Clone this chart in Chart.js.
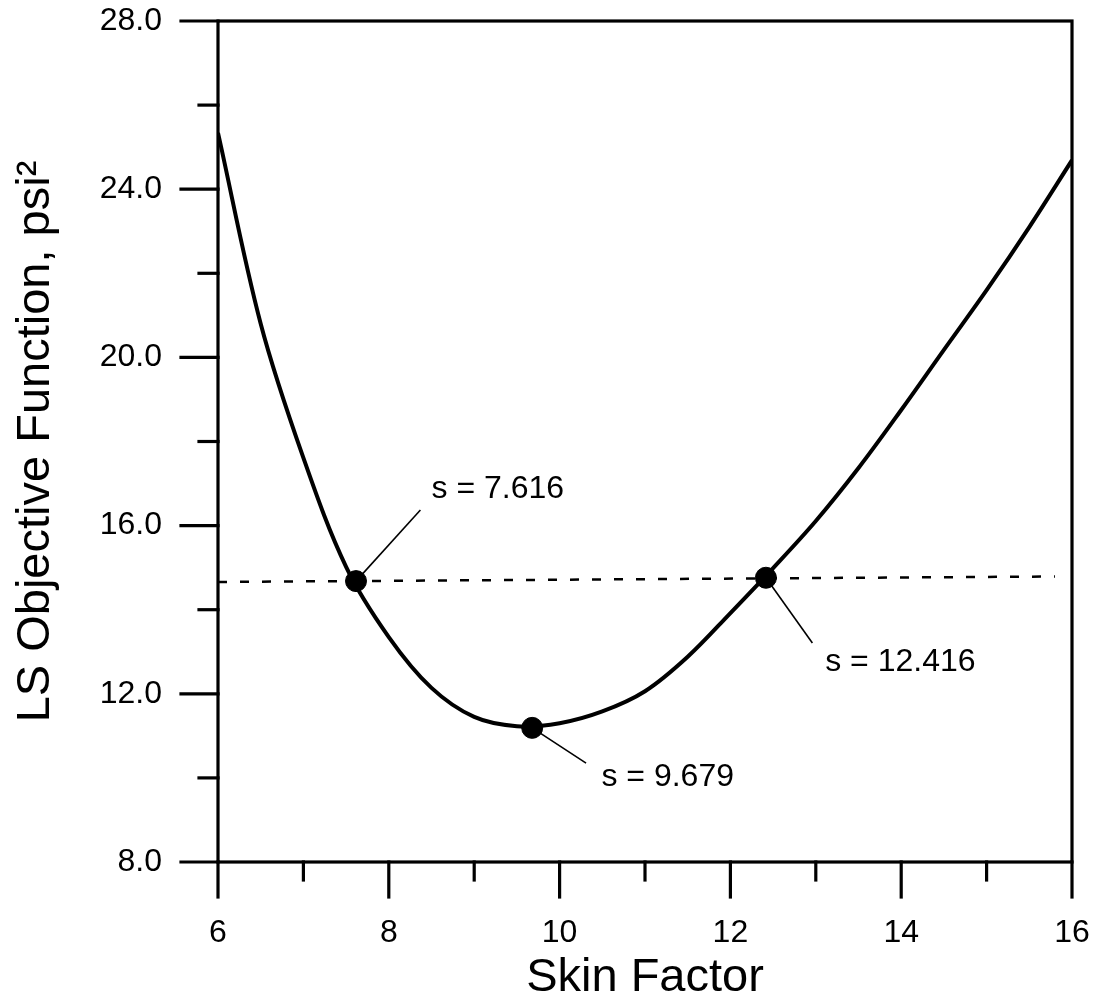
<!DOCTYPE html>
<html><head><meta charset="utf-8">
<script src="https://cdn.jsdelivr.net/npm/chart.js@4/dist/chart.umd.min.js"></script>
<style>html,body{margin:0;padding:0;background:#fff;}canvas{display:block;}</style>
</head><body>
<canvas id="c" width="1099" height="999"></canvas>
<script>
// ---- data ----
const skinFactor = [6, 6.5, 7, 7.5, 8, 8.5, 9, 9.5, 10, 10.5, 11, 11.5, 12, 12.5, 13, 13.5, 14, 14.5, 15, 15.5, 16];
const objective  = [25.34, 20.80, 17.61, 15.02, 13.35, 12.14, 11.45, 11.23, 11.30, 11.58, 12.06, 12.88, 13.92, 14.99, 16.11, 17.37, 18.75, 20.18, 21.60, 23.10, 24.69];
const markedSkin = [7.616, 9.679, 12.416];
const markedObjective = [14.68, 11.19, 14.76];
const markedLabels = ['s = 7.616', 's = 9.679', 's = 12.416'];
const thresholdSkin = [6, 15.8];
const thresholdObjective = [14.66, 14.79];
const xTickValues = [6, 8, 10, 12, 14, 16];
const yTickValues = [8, 12, 16, 20, 24, 28];
const xMinorValues = [7, 9, 11, 13, 15];
const yMinorValues = [10, 14, 18, 22, 26];

// annotation placement (data units)
const annotations = [
  { leaderEnd: [8.37, 16.37], text: [8.50, 16.87] },
  { leaderEnd: [10.31, 10.35], text: [10.49, 10.02] },
  { leaderEnd: [12.96, 13.21], text: [13.11, 12.76] }
];

const FONT = '"Liberation Sans", Arial, Helvetica, sans-serif';

const pts = (xs, ys) => xs.map((v, i) => ({ x: v, y: ys[i] }));

const leaderSets = annotations.map((a, i) => ({
  type: 'line',
  data: [{ x: markedSkin[i], y: markedObjective[i] }, { x: a.leaderEnd[0], y: a.leaderEnd[1] }],
  borderColor: '#000', borderWidth: 1.6, pointRadius: 0, fill: false, clip: false
}));

const framePlugin = {
  id: 'frame',
  afterDatasetsDraw(chart) {
    const { ctx, chartArea: a, scales: { x, y } } = chart;
    ctx.save();
    ctx.strokeStyle = '#000';
    ctx.lineWidth = 3.2;
    ctx.lineCap = 'square';
    ctx.strokeRect(a.left, a.top, a.right - a.left, a.bottom - a.top);
    const seg = (x1, y1, x2, y2) => { ctx.beginPath(); ctx.moveTo(x1, y1); ctx.lineTo(x2, y2); ctx.stroke(); };
    yTickValues.forEach(v => { const p = y.getPixelForValue(v); seg(a.left - 37, p, a.left, p); });
    yMinorValues.forEach(v => { const p = y.getPixelForValue(v); seg(a.left - 19, p, a.left, p); });
    xTickValues.forEach(v => { const p = x.getPixelForValue(v); seg(p, a.bottom, p, a.bottom + 35); });
    xMinorValues.forEach(v => { const p = x.getPixelForValue(v); seg(p, a.bottom, p, a.bottom + 18); });
    ctx.restore();
  }
};

const labelPlugin = {
  id: 'pointLabels',
  afterDatasetsDraw(chart) {
    const { ctx, scales: { x, y } } = chart;
    ctx.save();
    ctx.fillStyle = '#000';
    ctx.font = '32px ' + FONT;
    ctx.textAlign = 'left';
    ctx.textBaseline = 'middle';
    annotations.forEach((a, i) => {
      ctx.fillText(markedLabels[i], x.getPixelForValue(a.text[0]), y.getPixelForValue(a.text[1]));
    });
    ctx.restore();
  }
};

const zeroPad = s => { s.paddingTop = 0; s.paddingBottom = 0; s.paddingLeft = 0; s.paddingRight = 0; };

new Chart(document.getElementById('c'), {
  data: {
    datasets: [
      {
        type: 'line', data: pts(skinFactor, objective),
        borderColor: '#000', borderWidth: 4, pointRadius: 0, tension: 0.35, fill: false
      },
      {
        type: 'line', data: pts(thresholdSkin, thresholdObjective),
        borderColor: '#000', borderWidth: 2.5, borderDash: [9, 13], pointRadius: 0, fill: false
      },
      ...leaderSets,
      {
        type: 'scatter', data: pts(markedSkin, markedObjective),
        backgroundColor: '#000', borderColor: '#000', pointRadius: 10.5, pointHoverRadius: 10.5
      }
    ]
  },
  options: {
    responsive: false,
    animation: false,
    devicePixelRatio: 1,
    events: [],
    layout: { padding: { left: 0, right: 27, top: 21, bottom: 0 } },
    plugins: { legend: { display: false }, tooltip: { enabled: false } },
    scales: {
      x: {
        type: 'linear', min: 6, max: 16,
        afterBuildTicks: s => { s.ticks = xTickValues.map(v => ({ value: v })); },
        afterFit: s => { s.height = 137; zeroPad(s); },
        ticks: { color: '#000', font: { family: FONT, size: 32 }, padding: 52, maxRotation: 0, autoSkip: false },
        grid: { display: true, drawOnChartArea: false, drawTicks: false, color: 'rgba(0,0,0,0)' },
        border: { display: false },
        title: { display: true, text: 'Skin Factor', color: '#000', font: { family: FONT, size: 47, lineHeight: 0.9 }, padding: 0 }
      },
      y: {
        type: 'linear', min: 8, max: 28,
        afterBuildTicks: s => { s.ticks = yTickValues.map(v => ({ value: v })); },
        afterFit: s => { s.width = 218; zeroPad(s); },
        ticks: { color: '#000', font: { family: FONT, size: 32 }, padding: 56, autoSkip: false, callback: v => Number(v).toFixed(1) },
        grid: { display: true, drawOnChartArea: false, drawTicks: false, color: 'rgba(0,0,0,0)' },
        border: { display: false },
        title: { display: true, text: 'LS Objective Function, psi²', color: '#000', font: { family: FONT, size: 47, lineHeight: 0.9 }, padding: { top: 15, bottom: 0 } }
      }
    }
  },
  plugins: [framePlugin, labelPlugin]
});
</script>
</body></html>
